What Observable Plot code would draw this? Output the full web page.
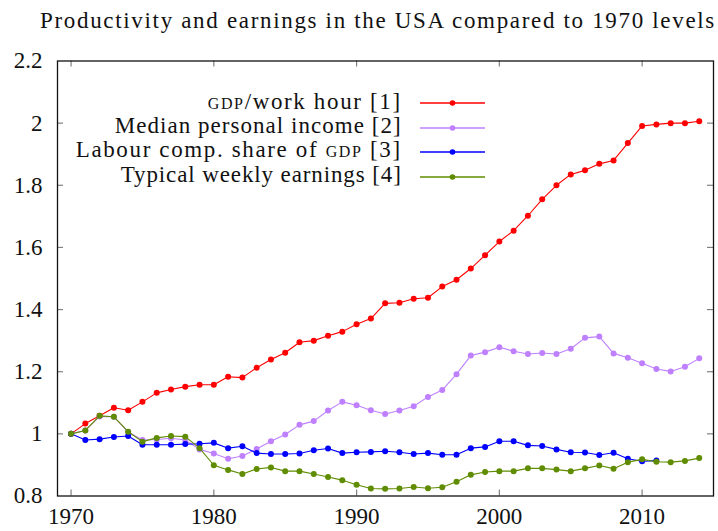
<!DOCTYPE html>
<html>
<head>
<meta charset="utf-8">
<script src="https://cdn.jsdelivr.net/npm/d3@7"></script>
<script src="https://cdn.jsdelivr.net/npm/@observablehq/plot@0.6"></script>
</head>
<body style="margin:0;background:#fff;">
<div id="wrap" style="position:relative;width:718px;height:531px;overflow:hidden;color:#111;font-family:'Liberation Serif';">
  <div id="title" style="position:absolute;left:40px;top:9px;font-size:23px;line-height:23px;white-space:nowrap;font-family:'Liberation Serif';">Productivity and earnings in the USA compared to 1970 levels</div>
  <div id="chart" style="position:absolute;left:0;top:40px;"></div>
</div>
<script>
// ---- data ----
const years = [1970,1971,1972,1973,1974,1975,1976,1977,1978,1979,
               1980,1981,1982,1983,1984,1985,1986,1987,1988,1989,
               1990,1991,1992,1993,1994,1995,1996,1997,1998,1999,
               2000,2001,2002,2003,2004,2005,2006,2007,2008,2009,
               2010,2011,2012,2013,2014];

const gdpPerHour = [1.000,1.033,1.058,1.084,1.076,1.103,1.132,1.143,1.152,1.158,
                    1.158,1.184,1.181,1.213,1.239,1.261,1.295,1.300,1.316,1.329,
                    1.353,1.371,1.420,1.422,1.435,1.438,1.474,1.496,1.532,1.575,
                    1.619,1.654,1.702,1.755,1.800,1.835,1.848,1.869,1.880,1.936,
                    1.991,1.996,2.000,2.000,2.006];

const medianIncome = [1.000,1.011,1.056,1.055,1.006,0.980,0.982,0.986,0.980,0.950,
                      0.937,0.920,0.929,0.951,0.976,0.998,1.029,1.041,1.075,1.103,
                      1.092,1.076,1.064,1.075,1.089,1.119,1.141,1.192,1.252,1.263,
                      1.279,1.266,1.257,1.260,1.257,1.274,1.309,1.313,1.259,1.245,
                      1.227,1.209,1.201,1.216,1.243];

const labourShare = [1.000,0.980,0.983,0.990,0.993,0.965,0.965,0.965,0.967,0.968,
                     0.971,0.954,0.960,0.938,0.935,0.935,0.937,0.947,0.953,0.938,
                     0.941,0.942,0.944,0.941,0.935,0.938,0.933,0.933,0.954,0.958,
                     0.976,0.976,0.963,0.961,0.950,0.941,0.940,0.932,0.939,0.920,
                     0.912,0.914];

const weeklyEarnings = [1.000,1.011,1.058,1.055,1.007,0.975,0.987,0.993,0.991,0.954,
                        0.899,0.884,0.871,0.887,0.892,0.880,0.880,0.871,0.861,0.851,
                        0.836,0.824,0.823,0.824,0.829,0.825,0.828,0.846,0.868,0.877,
                        0.880,0.880,0.889,0.889,0.885,0.880,0.889,0.898,0.888,0.909,
                        0.918,0.910,0.909,0.913,0.922];

const seriesNames = [
  "<span style=\"font-variant:small-caps\">gdp</span>/work hour [1]",
  "Median personal income [2]",
  "Labour comp. share of <span style=\"font-variant:small-caps\">gdp</span> [3]",
  "Typical weekly earnings [4]"
];
const seriesColors = ["#ff0000", "#bf80ff", "#0000ff", "#5f8c00"];
const seriesValues = [gdpPerHour, medianIncome, labourShare, weeklyEarnings];

const xTicks = [1970, 1980, 1990, 2000, 2010];
const xTickLabels = ["1970", "1980", "1990", "2000", "2010"];
const yTicks = [0.8, 1.0, 1.2, 1.4, 1.6, 1.8, 2.0, 2.2];
const yTickLabels = ["0.8", "1", "1.2", "1.4", "1.6", "1.8", "2", "2.2"];
const xDomain = [1969.05, 2015];
const yDomain = [0.8, 2.2];

// ---- layout ----
const W = 718, H = 491, mt = 20.5, mb = 35.5, ml = 57, mr = 5;
const tickPx = 6;
const tkY = tickPx * (yDomain[1] - yDomain[0]) / (H - mt - mb);
const tkX = tickPx * (xDomain[1] - xDomain[0]) / (W - ml - mr);

// ---- build tables ----
const tables = seriesValues.map(vals => vals.map((v, i) => ({year: years[i], value: v})));

const seriesMarks = [];
tables.forEach((t, k) => {
  seriesMarks.push(Plot.line(t, {x: "year", y: "value", stroke: seriesColors[k], strokeWidth: 1.1}));
  seriesMarks.push(Plot.dot(t, {x: "year", y: "value", fill: seriesColors[k], r: 3}));
});

const FONT = "Liberation Serif";
const tickStroke = "#808080";
const innerYTicks = yTicks.slice(1, -1);
const chart = Plot.plot({
  width: W,
  height: H,
  marginTop: mt,
  marginBottom: mb,
  marginLeft: ml,
  marginRight: mr,
  style: {fontSize: "23px", background: "transparent", overflow: "visible", color: "#111"},
  x: {domain: xDomain},
  y: {domain: yDomain},
  marks: [
    Plot.ruleX(xTicks, {x: d => d, y1: yDomain[0], y2: yDomain[0] + tkY, stroke: tickStroke, strokeWidth: 1.2}),
    Plot.ruleX(xTicks, {x: d => d, y1: yDomain[1], y2: yDomain[1] - tkY, stroke: tickStroke, strokeWidth: 1.2}),
    Plot.ruleY(innerYTicks, {y: d => d, x1: xDomain[0], x2: xDomain[0] + tkX, stroke: tickStroke, strokeWidth: 1.2}),
    Plot.ruleY(innerYTicks, {y: d => d, x1: xDomain[1], x2: xDomain[1] - tkX, stroke: tickStroke, strokeWidth: 1.2}),
    Plot.axisX(xTicks, {anchor: "bottom", tickSize: 0, tickPadding: 12, fill: "#111", fontFamily: FONT, fontSize: 23,
      tickFormat: d => xTickLabels[xTicks.indexOf(d)], label: null}),
    Plot.axisY(yTicks, {anchor: "left", tickSize: 0, tickPadding: 15, fill: "#111", fontFamily: FONT, fontSize: 23,
      tickFormat: d => yTickLabels[yTicks.indexOf(d)], label: null}),
    ...seriesMarks,
    Plot.frame({stroke: "#111", strokeWidth: 1.3})
  ]
});
chart.setAttribute("font-family", FONT);
chart.style.fontFamily = "'" + FONT + "'";
chart.querySelectorAll("text").forEach(t => t.setAttribute("font-family", FONT));
document.getElementById("chart").appendChild(chart);

// ---- text width fit ----
const wrap = document.getElementById("wrap");
function fitWidth(el, target) {
  const w = el.getBoundingClientRect().width;
  const n = el.textContent.length;
  if (n > 1) el.style.letterSpacing = ((target - w) / n) + "px";
}
fitWidth(document.getElementById("title"), 676);

// ---- legend (HTML overlay) ----
const legendRowY = [103.3, 127.7, 151.7, 176.7];
const legendTextWidths = [194, 287, 326, 281];
seriesNames.forEach((name, k) => {
  const y = legendRowY[k];
  const txt = document.createElement("div");
  txt.setAttribute("style", "position:absolute;font-family:'Liberation Serif';font-size:23px;line-height:23px;white-space:nowrap;text-align:right;");
  txt.innerHTML = name;
  txt.style.right = (718 - 401.7) + "px";
  txt.style.top = (y + 5 - 18.3) + "px";
  wrap.appendChild(txt);
  fitWidth(txt, legendTextWidths[k]);
  const ns = "http://www.w3.org/2000/svg";
  const s = document.createElementNS(ns, "svg");
  s.setAttribute("width", 66);
  s.setAttribute("height", 10);
  s.style.position = "absolute";
  s.style.left = "420px";
  s.style.top = (y - 5) + "px";
  const ln = document.createElementNS(ns, "line");
  ln.setAttribute("x1", 0); ln.setAttribute("x2", 65);
  ln.setAttribute("y1", 5); ln.setAttribute("y2", 5);
  ln.setAttribute("stroke", seriesColors[k]); ln.setAttribute("stroke-width", 1.3);
  const c = document.createElementNS(ns, "circle");
  c.setAttribute("cx", 32.5); c.setAttribute("cy", 5); c.setAttribute("r", 2.8);
  c.setAttribute("fill", seriesColors[k]);
  s.appendChild(ln); s.appendChild(c);
  wrap.appendChild(s);
});
</script>
</body>
</html>
